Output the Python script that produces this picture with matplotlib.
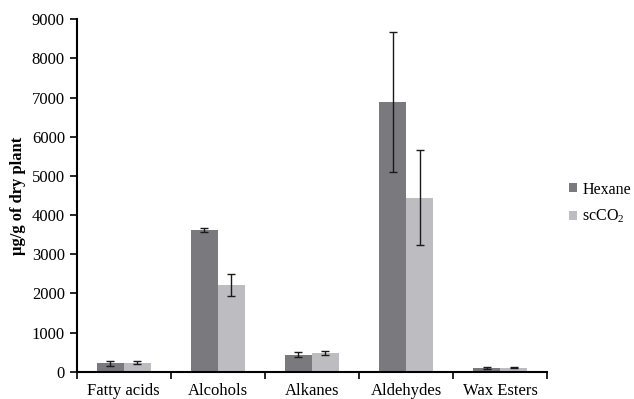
import matplotlib.pyplot as plt
import numpy as np

categories = ['Fatty acids', 'Alcohols', 'Alkanes', 'Aldehydes', 'Wax Esters']
hexane = [220, 3620, 440, 6880, 100]
hexane_err = [60, 50, 60, 1790, 20]
sco2 = [230, 2210, 480, 4440, 110]
sco2_err = [40, 280, 40, 1210, 20]

plt.rcParams['font.family'] = ['Liberation Serif', 'DejaVu Serif']
plt.rcParams['mathtext.fontset'] = 'custom'
plt.rcParams['mathtext.rm'] = 'Liberation Serif'
plt.rcParams['mathtext.it'] = 'Liberation Serif:italic'

fig = plt.figure(figsize=(6.34, 3.99), dpi=100)
ax = fig.add_axes([0.121, 0.068, 0.742, 0.884])

x = np.arange(len(categories))
w = 0.287
err_kw = dict(ecolor='#1a1a1a', elinewidth=1.0, capsize=3, capthick=1.0)
ax.bar(x - w / 2, hexane, w, yerr=hexane_err, color='#7a7a7e', label='Hexane', error_kw=err_kw)
ax.bar(x + w / 2, sco2, w, yerr=sco2_err, color='#bdbdc1', label='scCO$_2$', error_kw=err_kw)

ax.set_xlim(-0.5, len(categories) - 0.5)
ax.set_ylim(0, 9000)
ax.set_yticks(range(0, 9001, 1000))
ax.set_xticks(x)
ax.set_xticklabels(categories, fontsize=12)
ax.set_xticks(np.arange(-0.5, len(categories)), minor=True)
ax.tick_params(axis='x', which='major', length=0, pad=8)
ax.tick_params(axis='x', which='minor', length=5, width=1.2)
ax.tick_params(axis='y', labelsize=12, length=5, width=1.2)
for s in ['top', 'right']:
    ax.spines[s].set_visible(False)
for s in ['left', 'bottom']:
    ax.spines[s].set_linewidth(1.5)
ax.set_ylabel('µg/g of dry plant', fontsize=12, fontweight='bold')

fig.legend(loc='center left', bbox_to_anchor=(0.898, 0.49), frameon=False,
           fontsize=11.5, handlelength=0.5, handleheight=0.5, handletextpad=0.3,
           labelspacing=0.65, borderpad=0, borderaxespad=0)

plt.savefig('out.png', dpi=100)
